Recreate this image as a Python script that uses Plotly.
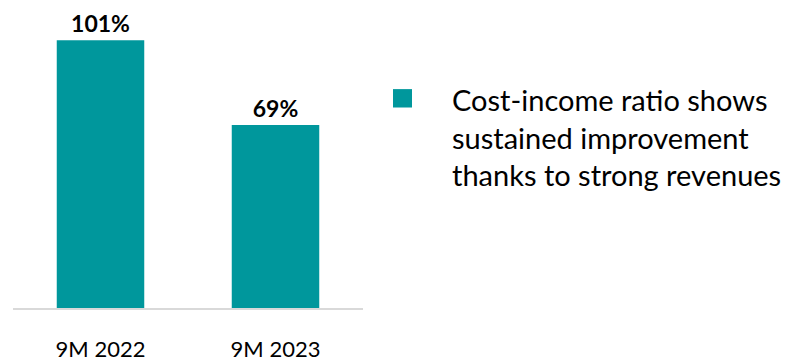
import plotly.graph_objects as go

categories = ["9M 2022", "9M 2023"]
values = [101, 69]
labels = ["101%", "69%"]
note_lines = ["Cost-income ratio shows", "sustained improvement", "thanks to strong revenues"]

TEAL = "#00979C"
W, H = 791, 362
ML, MB = 13, 44
PW = W - ML
PH = H - MB

def px_x(px):
    return (px - ML) / PW

def px_y(py):
    return 1 - py / PH

fig = go.Figure(go.Bar(
    x=categories, y=values, text=labels, textposition="outside",
    textfont=dict(family="Lato", size=23, color="#000000", weight="bold"),
    marker=dict(color=TEAL, line=dict(width=0)), width=0.5, cliponaxis=False,
))

fig.update_layout(
    width=W, height=H, margin=dict(l=ML, r=0, t=0, b=MB, pad=0),
    paper_bgcolor="white", plot_bgcolor="white", showlegend=False,
    font=dict(family="Lato", color="#000000"),
    xaxis=dict(domain=[0, 350 / PW], range=[-0.5, 1.5], showline=True, linecolor="#d9d9d9",
               linewidth=2, ticks="outside", ticklen=21, tickcolor="rgba(0,0,0,0)",
               tickfont=dict(family="Lato", size=22, color="#000000"), showgrid=False,
               zeroline=False, fixedrange=True),
    yaxis=dict(range=[0, PH / 2.737], visible=False, showgrid=False, zeroline=False),
)

fig.add_shape(type="rect", xref="paper", yref="paper",
              x0=px_x(393), x1=px_x(412), y0=px_y(111), y1=px_y(92),
              fillcolor=TEAL, line=dict(width=0))

fig.add_annotation(xref="paper", yref="paper", x=px_x(450), y=px_y(141),
                   xanchor="left", yanchor="middle", align="left", showarrow=False,
                   text="<br>".join(note_lines),
                   font=dict(family="Lato", size=29, color="#000000"))

fig.write_html("out.html")
